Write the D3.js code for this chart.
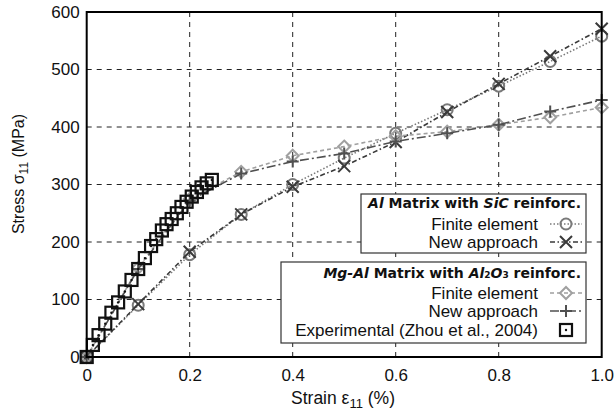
<!DOCTYPE html>
<html><head><meta charset="utf-8">
<script src="https://cdn.jsdelivr.net/npm/d3@7"></script>
<style>body{margin:0;background:#fff}svg{display:block}</style>
</head><body><svg id="c" width="614" height="417"></svg>
<script>
const strain = [0,0.1,0.2,0.3,0.4,0.5,0.6,0.7,0.8,0.9,1.0];
const alFE = [0,90,178,248,300,346,389,430,471,514,558];
const alNA = [0,92,183,248,296,332,374,426,475,523,571];
const mgFE = [0,155,275,322,350,366,384,392,404,417,434];
const mgNA = [0,153,272,319,340,354,375,389,404,427,447];
const expStrain = [0,0.012,0.023,0.036,0.048,0.061,0.074,0.087,0.100,0.113,0.125,0.135,0.146,0.155,0.165,0.175,0.184,0.194,0.204,0.214,0.223,0.233,0.243];
const expStress = [0,21,38,58,77,95,114,134,153,172,193,205,220,231,240,250,261,270,279,287,295,302,308];
const xTicks = [0,0.2,0.4,0.6,0.8,1.0];
const yTicks = [0,100,200,300,400,500,600];

const svg = d3.select('#c');
const L=86.7,R=601.7,T=12,B=357;
const x = d3.scaleLinear().domain([0,1]).range([L,R]);
const y = d3.scaleLinear().domain([0,600]).range([B,T]);
const font = "'Liberation Sans', Arial, sans-serif";

// grid
svg.append('g').selectAll('line').data(xTicks.slice(1,-1)).join('line')
  .attr('x1',d=>x(d)).attr('x2',d=>x(d)).attr('y1',T).attr('y2',B)
  .attr('stroke','#222').attr('stroke-width',1).attr('stroke-dasharray','5,5');
svg.append('g').selectAll('line').data(yTicks.slice(1,-1)).join('line')
  .attr('y1',d=>y(d)).attr('y2',d=>y(d)).attr('x1',L).attr('x2',R)
  .attr('stroke','#222').attr('stroke-width',1).attr('stroke-dasharray','5,5');

// axes
const xa = svg.append('g').attr('transform',`translate(0,${B})`)
  .call(d3.axisBottom(x).tickValues(xTicks).tickFormat(d=>d===0?'0':d.toFixed(1)).tickSize(0).tickPadding(12));
const ya = svg.append('g').attr('transform',`translate(${L},0)`)
  .call(d3.axisLeft(y).tickValues(yTicks).tickSize(0).tickPadding(7));
[xa,ya].forEach(a=>{a.select('.domain').remove();a.selectAll('text').attr('font-family',font).attr('font-size',17).attr('fill','#111');});

// series
const series = [
  {v:alFE, color:'#7a7a7a', dash:'1.5,2', w:1.6, m:'circle'},
  {v:alNA, color:'#3a3a3a', dash:'5,2.5,1.5,2.5', w:1.6, m:'x'},
  {v:mgFE, color:'#a0a0a0', dash:'4,3', w:1.6, m:'diamond'},
  {v:mgNA, color:'#505050', dash:'9,3,2,3', w:1.6, m:'plus'}
];
const line = d3.line();
function marker(g,type,cx,cy,color){
  if(type==='circle') g.append('circle').attr('cx',cx).attr('cy',cy).attr('r',5.5).attr('fill','none').attr('stroke',color).attr('stroke-width',2);
  else if(type==='x') g.append('path').attr('d',`M${cx-6},${cy-6}L${cx+6},${cy+6}M${cx-6},${cy+6}L${cx+6},${cy-6}`).attr('stroke',color).attr('stroke-width',2);
  else if(type==='diamond') g.append('path').attr('d',`M${cx},${cy-6}L${cx+6},${cy}L${cx},${cy+6}L${cx-6},${cy}Z`).attr('fill','none').attr('stroke',color).attr('stroke-width',2);
  else if(type==='plus') g.append('path').attr('d',`M${cx-6},${cy}L${cx+6},${cy}M${cx},${cy-6}L${cx},${cy+6}`).attr('stroke',color).attr('stroke-width',2);
  else if(type==='square'){ g.append('rect').attr('x',cx-6).attr('y',cy-6).attr('width',12).attr('height',12).attr('fill','none').attr('stroke','#111').attr('stroke-width',2.2);
    g.append('circle').attr('cx',cx).attr('cy',cy).attr('r',1.2).attr('fill','#111');}
}
series.forEach(s=>{
  const pts = strain.map((d,i)=>[x(d),y(s.v[i])]);
  svg.append('path').attr('d',line(pts)).attr('fill','none').attr('stroke',s.color).attr('stroke-width',s.w).attr('stroke-dasharray',s.dash);
  const g = svg.append('g');
  pts.forEach(p=>marker(g,s.m,p[0],p[1],s.color));
});
const eg = svg.append('g');
expStrain.forEach((d,i)=>marker(eg,'square',x(d),y(expStress[i])));

// frame
svg.append('rect').attr('x',L).attr('y',T).attr('width',R-L).attr('height',B-T).attr('fill','none').attr('stroke','#000').attr('stroke-width',2);

// legends
function legend(box, title, entries){
  svg.append('rect').attr('x',box[0]).attr('y',box[1]).attr('width',box[2]-box[0]).attr('height',box[3]-box[1])
    .attr('fill','#fff').attr('stroke','#333').attr('stroke-width',1.2);
  const t = svg.append('text').attr('x',box[2]-5).attr('y',title.y).attr('text-anchor','end')
    .attr('font-family',"'DejaVu Sans', sans-serif").attr('font-size',14).attr('font-weight','bold').attr('fill','#111');
  title.parts.forEach(p=>{const ts=t.append('tspan').text(p.t); if(p.i) ts.attr('font-style','italic'); if(p.sub) ts.attr('font-size',9).attr('dy',0);});
  entries.forEach(e=>{
    svg.append('text').attr('x',538).attr('y',e.y).attr('text-anchor','end').attr('font-family',font).attr('font-size',17).attr('fill','#111').text(e.label);
    const cy = e.y-6;
    if(e.s){
      svg.append('line').attr('x1',550).attr('x2',582).attr('y1',cy).attr('y2',cy).attr('stroke',e.s.color).attr('stroke-width',1.6).attr('stroke-dasharray',e.s.dash);
      marker(svg,e.s.m,566,cy,e.s.color);
    } else marker(svg,'square',566,cy);
  });
}
legend([361,194,586,253],{y:208,parts:[{t:'Al',i:1},{t:' Matrix with '},{t:'SiC',i:1},{t:' reinforc.'}]},
  [{label:'Finite element',y:230,s:series[0]},{label:'New approach',y:248,s:series[1]}]);
legend([281,262,586,343],{y:278,parts:[{t:'Mg-Al',i:1},{t:' Matrix with '},{t:'Al',i:1},{t:'2',sub:1},{t:'O',i:1},{t:'3',sub:1},{t:' reinforc.'}]},
  [{label:'Finite element',y:299,s:series[2]},{label:'New approach',y:317,s:series[3]},{label:'Experimental (Zhou et al., 2004)',y:336}]);

// axis titles
const xt = svg.append('text').attr('x',343).attr('y',404).attr('text-anchor','middle').attr('font-family',font).attr('font-size',17.5).attr('fill','#111');
xt.append('tspan').text('Strain ε');
xt.append('tspan').text('11').attr('font-size',13).attr('dy',4);
xt.append('tspan').text(' (%)').attr('dy',-4);
const yt = svg.append('text').attr('transform','translate(24,174) rotate(-90)').attr('text-anchor','middle').attr('font-family',font).attr('font-size',16).attr('fill','#111');
yt.append('tspan').text('Stress σ');
yt.append('tspan').text('11').attr('font-size',12).attr('dy',4);
yt.append('tspan').text(' (MPa)').attr('dy',-4);
</script></body></html>
